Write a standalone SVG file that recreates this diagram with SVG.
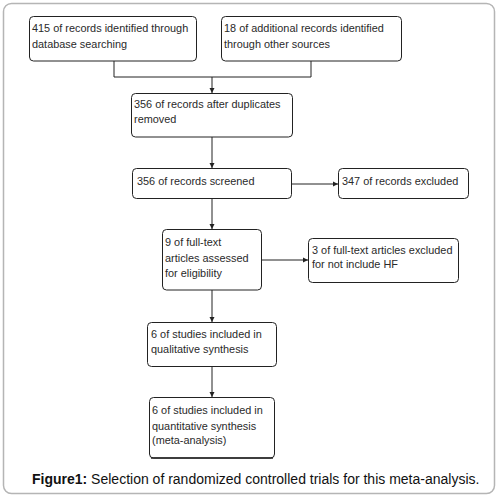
<svg xmlns="http://www.w3.org/2000/svg" width="500" height="498" viewBox="0 0 500 498">
<defs>
<style>
.box{fill:#fff;stroke:#222;stroke-width:1}
.t{font-family:"Liberation Sans",Arial,sans-serif;font-size:10.9px;fill:#2a2a2a}
.c{fill:none;stroke:#222;stroke-width:1}
.cap{font-family:"Liberation Sans",Arial,sans-serif;font-size:14px;fill:#111}
</style>
<marker id="ah" markerWidth="6" markerHeight="6" refX="5" refY="3" orient="auto" markerUnits="userSpaceOnUse">
<path d="M0,0.5 L5,3 L0,5.5 Z" fill="#222"/>
</marker>
</defs>
<rect x="3.5" y="3.5" width="491" height="490" rx="8" fill="#fff" stroke="#b5b5b5" stroke-width="1.5"/>
<g id="connectors">
<path class="c" d="M114,61 V77 H311 V61"/>
<path class="c" d="M212,77 V93" marker-end="url(#ah)"/>
<path class="c" d="M212,137 V168" marker-end="url(#ah)"/>
<path class="c" d="M291,184 H338" marker-end="url(#ah)"/>
<path class="c" d="M212,198 V229" marker-end="url(#ah)"/>
<path class="c" d="M261,260 H308" marker-end="url(#ah)"/>
<path class="c" d="M212,290 V322" marker-end="url(#ah)"/>
<path class="c" d="M212,366 V397" marker-end="url(#ah)"/>
</g>
<g id="n1"><rect class="box" x="29.5" y="16.5" width="167" height="44.5" rx="4"/>
<text class="t" x="32" y="32">415 of records identified through</text>
<text class="t" x="32" y="48">database searching</text></g>
<g id="n2"><rect class="box" x="221.5" y="16.5" width="180" height="44.5" rx="4"/>
<text class="t" x="224" y="32">18 of additional records identified</text>
<text class="t" x="224" y="48">through other sources</text></g>
<g id="n3"><rect class="box" x="131.5" y="93.5" width="161" height="43.5" rx="4"/>
<text class="t" x="134" y="108">356 of records after duplicates</text>
<text class="t" x="134" y="123">removed</text></g>
<g id="n4"><rect class="box" x="132.5" y="168.5" width="159" height="30" rx="4"/>
<text class="t" x="137" y="185">356 of records screened</text></g>
<g id="n5"><rect class="box" x="338.5" y="168.5" width="130" height="30" rx="4"/>
<text class="t" x="342" y="185">347 of records excluded</text></g>
<g id="n6"><rect class="box" x="162.5" y="229.5" width="99" height="60.5" rx="4"/>
<text class="t" x="165" y="246">9 of full-text</text>
<text class="t" x="165" y="262">articles assessed</text>
<text class="t" x="165" y="277">for eligibility</text></g>
<g id="n7"><rect class="box" x="308.5" y="238.5" width="150" height="44" rx="4"/>
<text class="t" x="312" y="254">3 of full-text articles excluded</text>
<text class="t" x="312" y="268">for not include HF</text></g>
<g id="n8"><rect class="box" x="147.5" y="322.5" width="129" height="44" rx="4"/>
<text class="t" x="151" y="338">6 of studies included in</text>
<text class="t" x="151" y="353">qualitative synthesis</text></g>
<g id="n9"><rect class="box" x="149.5" y="397.5" width="125" height="60.5" rx="4"/>
<line x1="151" y1="458" x2="273" y2="458" stroke="#222" stroke-width="1.5"/>
<text class="t" x="152" y="414">6 of studies included in</text>
<text class="t" x="152" y="430">quantitative synthesis</text>
<text class="t" x="152" y="444">(meta-analysis)</text></g>
<text class="cap" x="32" y="484"><tspan font-weight="bold">Figure1:</tspan> Selection of randomized controlled trials for this meta-analysis.</text>
</svg>
